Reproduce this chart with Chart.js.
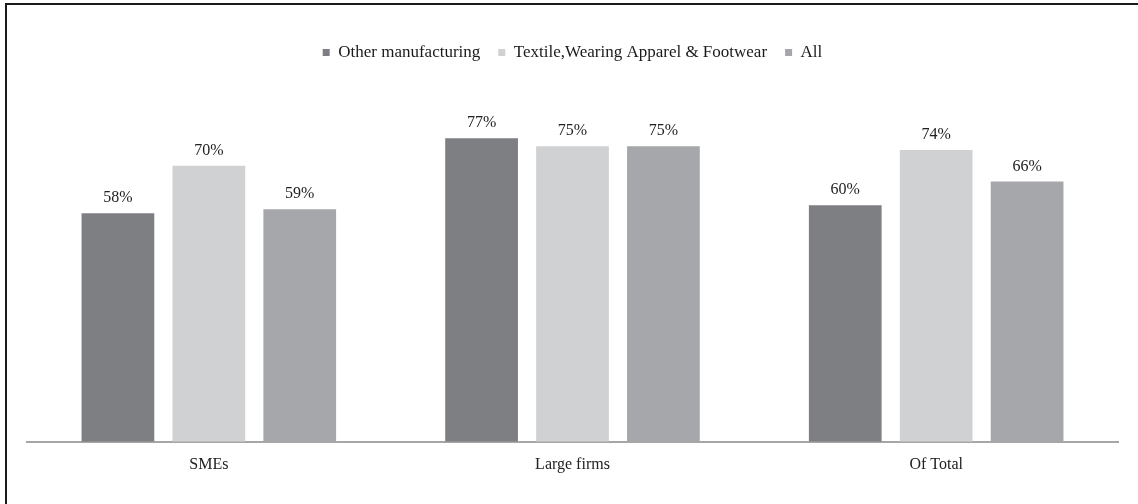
<!DOCTYPE html>
<html>
<head>
<meta charset="utf-8">
<title>Share of firms</title>
<script src="https://cdn.jsdelivr.net/npm/chart.js@4.4.1/dist/chart.umd.min.js"></script>
<style>
    html, body { margin: 0; padding: 0; background: #fff; }
    #wrap { position: relative; width: 1138px; height: 504px; }
    #frame {
        position: absolute; left: 5px; top: 3px; right: 0; bottom: 0;
        border-top: 2px solid #1a1a1a; border-left: 2px solid #1a1a1a;
        pointer-events: none;
    }
</style>
</head>
<body>
<div id="wrap">
    <canvas id="firmsChart" width="1138" height="504"></canvas>
    <div id="frame"></div>
</div>
<script>
// Datos
const categories = ['SMEs', 'Large firms', 'Of Total'];
const otherManufacturing = [58, 77, 60];
const textileApparel = [70, 75, 74];
const allFirms = [59, 75, 66];
const seriesNames = ['Other manufacturing', 'Textile,Wearing Apparel & Footwear', 'All'];

document.addEventListener('DOMContentLoaded', function() {
    Chart.defaults.font.family = "'Liberation Serif', 'Times New Roman', serif";
    Chart.defaults.font.size = 16;
    Chart.defaults.color = '#222';

    // Espacio extra bajo la leyenda
    const legendMargin = {
        id: 'legendMargin',
        beforeInit(chart) {
            const fitValue = chart.legend.fit;
            chart.legend.fit = function fit() {
                fitValue.bind(chart.legend)();
                this.height += 16;
            };
        }
    };

    // Etiquetas de porcentaje sobre cada barra
    const barLabels = {
        id: 'barLabels',
        afterDatasetsDraw(chart) {
            const ctx = chart.ctx;
            ctx.save();
            ctx.font = "16px 'Liberation Serif', 'Times New Roman', serif";
            ctx.fillStyle = '#222';
            ctx.textAlign = 'center';
            ctx.textBaseline = 'alphabetic';
            chart.data.datasets.forEach((ds, i) => {
                chart.getDatasetMeta(i).data.forEach((bar, j) => {
                    ctx.fillText(ds.data[j] + '%', bar.x, bar.y - 11);
                });
            });
            ctx.restore();
        }
    };

    new Chart(document.getElementById('firmsChart').getContext('2d'), {
        type: 'bar',
        data: {
            labels: categories,
            datasets: [{
                label: seriesNames[0],
                data: otherManufacturing,
                backgroundColor: '#7e7f83'
            }, {
                label: seriesNames[1],
                data: textileApparel,
                backgroundColor: '#d0d1d3'
            }, {
                label: seriesNames[2],
                data: allFirms,
                backgroundColor: '#a6a7aa'
            }]
        },
        options: {
            responsive: false,
            animation: false,
            categoryPercentage: 0.75,
            barPercentage: 0.8,
            layout: {
                padding: { top: 26, left: 27, right: 20, bottom: 17 }
            },
            plugins: {
                legend: {
                    display: true,
                    position: 'top',
                    labels: {
                        boxWidth: 7,
                        boxHeight: 7,
                        padding: 18,
                        color: '#1a1a1a',
                        font: { size: 17 }
                    }
                },
                tooltip: { enabled: false }
            },
            scales: {
                x: {
                    grid: { display: false, drawTicks: false },
                    border: { display: true, color: '#a6a6a6', width: 2 },
                    ticks: { padding: 13, color: '#222', font: { size: 16 } }
                },
                y: {
                    display: false,
                    beginAtZero: true,
                    min: 0,
                    max: 90
                }
            }
        },
        plugins: [legendMargin, barLabels]
    });
});
</script>
</body>
</html>
